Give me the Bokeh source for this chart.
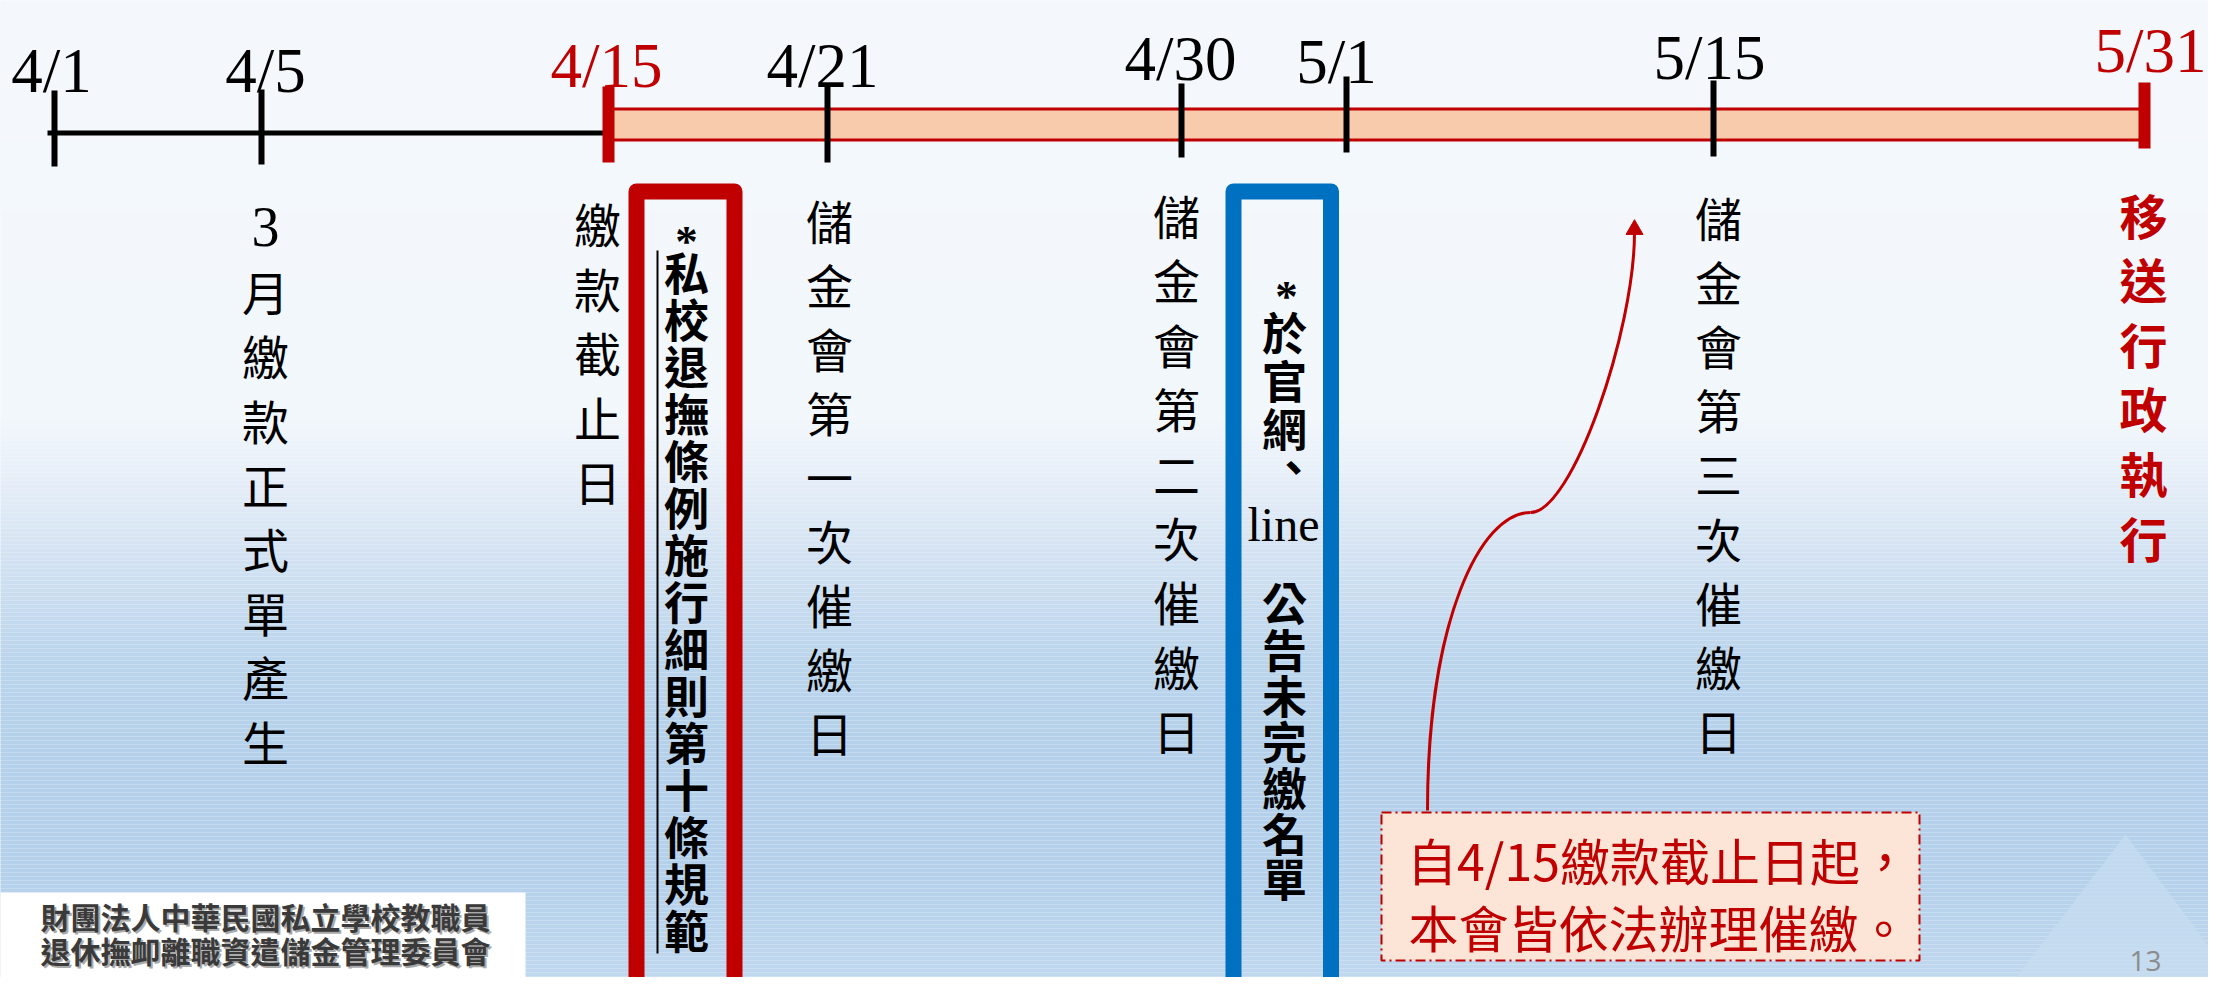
import numpy as np
from bokeh.plotting import figure
from bokeh.models import Range1d, ColumnDataSource
from bokeh.core.properties import value
from bokeh.embed import file_html
from bokeh.resources import INLINE

# ---------------- data ----------------
dates = ["4/1", "4/5", "4/15", "4/21", "4/30", "5/1", "5/15", "5/31"]
is_deadline = [False, False, True, False, False, False, False, True]

event_dates = ["4/5", "4/15", "4/21", "4/30", "5/15", "5/31"]
event_labels = ["3月繳款正式單產生", "繳款截止日", "儲金會第一次催繳日",
                "儲金會第二次催繳日", "儲金會第三次催繳日", "移送行政執行"]

rule_note = ["*", "私", "校", "退", "撫", "條", "例", "施", "行", "細", "則", "第", "十", "條", "規", "範"]
web_note = ["*", "於", "官", "網", "、", "line", "公", "告", "未", "完", "繳", "名", "單"]
callout_lines = ["自4/15繳款截止日起，", "本會皆依法辦理催繳。"]
org_lines = ["財團法人中華民國私立學校教職員", "退休撫卹離職資遣儲金管理委員會"]
page_no = "13"

# ---------------- layout (pixel positions of the slide) ----------------
tick_x = [54, 261, 608, 827, 1181, 1346, 1713, 2144]
tick_top = [90, 89, 86, 86, 83, 76, 80, 82]
tick_bot = [166, 164, 162, 162, 157, 152, 156, 148]
label_base = [70, 70, 65, 65, 58, 61, 57, 50]
label_x = [51, 265, 606, 822, 1180, 1336, 1709, 2150]

col_x = [265, 597, 829, 1176, 1718, 2143]
col_y0 = [226, 222, 219, 214, 216, 213]
col_pitch = [64.2, 64.5, 64.0, 64.4, 64.1, 64.6]

RED = "#c00000"
BLUE = "#0070c0"
CJK = "Noto Sans CJK TC"
SERIF = "Liberation Serif"

W, H = 2208, 977
p = figure(width=W, height=H, x_range=Range1d(0, W), y_range=Range1d(H, 0),
           output_backend="svg", toolbar_location=None, min_border=0,
           x_axis_type=None, y_axis_type=None)
p.grid.visible = False
p.outline_line_color = None
p.background_fill_color = "#f4f8fc"
p.border_fill_color = "#f4f8fc"

# ---------------- background gradient ----------------
stops_y = [0, 420, 470, 560, 660, 760, 880, 1000]
stops_c = [(245, 249, 253), (242, 247, 252), (232, 240, 249), (210, 226, 242),
           (187, 213, 236), (180, 208, 234), (181, 209, 235), (195, 218, 240)]
edges = np.arange(0, 1004, 4)
mids = (edges[:-1] + edges[1:]) / 2
cols = []
for m in mids:
    r = np.interp(m, stops_y, [c[0] for c in stops_c])
    g = np.interp(m, stops_y, [c[1] for c in stops_c])
    b = np.interp(m, stops_y, [c[2] for c in stops_c])
    cols.append("#%02x%02x%02x" % (int(r), int(g), int(b)))
p.quad(left=-10, right=2240, top=edges[:-1], bottom=edges[1:], fill_color=cols, line_color=None)

# faint mountain shape bottom-right
p.patch(x=[1998, 2125, 2230, 2230], y=[1000, 834, 975, 1000], fill_color="#c6dcf0",
        line_color=None, fill_alpha=0.8)

# ---------------- timeline ----------------
p.segment(x0=47, y0=132.5, x1=608, y1=132.5, line_color="black", line_width=5)
p.quad(left=608, right=2144, top=108.5, bottom=139.5, fill_color="#f8cbad",
       line_color=RED, line_width=3)

tick_cols = [RED if d else "black" for d in is_deadline]
tick_w = [12 if d else 6 for d in is_deadline]
p.segment(x0=tick_x, y0=tick_top, x1=tick_x, y1=tick_bot, line_color=tick_cols, line_width=tick_w)

p.text(x=label_x, y=label_base, text=dates, text_color=tick_cols,
       text_font=value(SERIF), text_font_size="63px", text_align="center",
       text_baseline="alphabetic")

# ---------------- vertical event labels ----------------
for i, lab in enumerate(event_labels):
    chars = list(lab)
    last = event_dates[i] == dates[-1]
    base = "48px" if last else "47px"
    src = ColumnDataSource(dict(
        x=[col_x[i]] * len(chars),
        y=[col_y0[i] + k * col_pitch[i] for k in range(len(chars))],
        t=chars,
        f=[SERIF if c.isascii() else CJK for c in chars],
        s=["56px" if c.isascii() else base for c in chars]))
    p.text(x="x", y="y", text="t", text_font="f", text_font_size="s", source=src,
           text_font_style="bold" if last else "normal",
           text_color=RED if last else "black",
           text_align="center", text_baseline="middle")

# ---------------- red box: regulation note ----------------
p.quad(left=636, right=734, top=191, bottom=1010, fill_alpha=0, line_color=RED,
       line_width=16, line_join="round")
p.segment(x0=657, y0=250, x1=657, y1=953, line_color="black", line_width=2)
rn_y = [240] + [271 + 47 * k for k in range(len(rule_note) - 1)]
src = ColumnDataSource(dict(x=[686] * len(rule_note), y=rn_y, t=rule_note,
                            f=[SERIF if c.isascii() else CJK for c in rule_note]))
p.text(x="x", y="y", text="t", text_font="f", source=src, text_font_size="45px",
       text_font_style="bold", text_color="black", text_align="center", text_baseline="middle")

# ---------------- blue box: web notice ----------------
p.quad(left=1233, right=1330.5, top=191, bottom=1010, fill_alpha=0, line_color=BLUE,
       line_width=16, line_join="round")
wn_y = [295, 331, 379, 427, 465, 524, 601, 648, 694, 740, 786, 832, 877]
wn_x = [1286, 1284, 1284, 1284, 1293, 1283, 1284, 1284, 1284, 1284, 1284, 1284, 1284]
src = ColumnDataSource(dict(x=wn_x, y=wn_y, t=web_note,
                            f=[SERIF if c.isascii() else CJK for c in web_note],
                            st=["normal" if c == "line" else "bold" for c in web_note],
                            s=["48px" if c == "line" else "45px" for c in web_note]))
p.text(x="x", y="y", text="t", text_font="f", text_font_style="st", text_font_size="s",
       source=src, text_color="black", text_align="center", text_baseline="middle")

# ---------------- curved arrow + callout ----------------
p.bezier(x0=[1427, 1530], y0=[810, 512], x1=[1530, 1634], y1=[512, 232],
         cx0=[1427, 1572], cy0=[620, 512], cx1=[1480, 1634], cy1=[512, 330],
         line_color=RED, line_width=3)
p.scatter(x=[1634], y=[229], marker="triangle", size=17, fill_color=RED, line_color=RED)

p.quad(left=1381, right=1919, top=812, bottom=960, fill_color="#fce4d6",
       line_color=RED, line_width=2, line_dash="10 4 2 4")
p.text(x=[1658, 1658], y=[858, 925], text=callout_lines, text_color=RED,
       text_font=value(CJK), text_font_size="50px", text_align="center",
       text_baseline="middle")

# ---------------- organisation logo & page number ----------------
p.quad(left=-10, right=525, top=892, bottom=1000, fill_color="white", line_color=None)
p.text(x=[492, 492], y=[917, 951], text=org_lines, text_color="#aaaaaa",
       text_font=value(CJK), text_font_size="30px", text_font_style="bold",
       text_align="right", text_baseline="middle")
p.text(x=[490, 490], y=[915, 949], text=org_lines, text_color="#3a3a3a",
       text_font=value(CJK), text_font_size="30px", text_font_style="bold",
       text_align="right", text_baseline="middle")

p.text(x=[2145], y=[960], text=[page_no], text_color="#8c8c8c",
       text_font=value("Open Sans"), text_font_size="28px", text_align="center",
       text_baseline="middle")

open("out.html", "w").write(file_html(p, INLINE))
